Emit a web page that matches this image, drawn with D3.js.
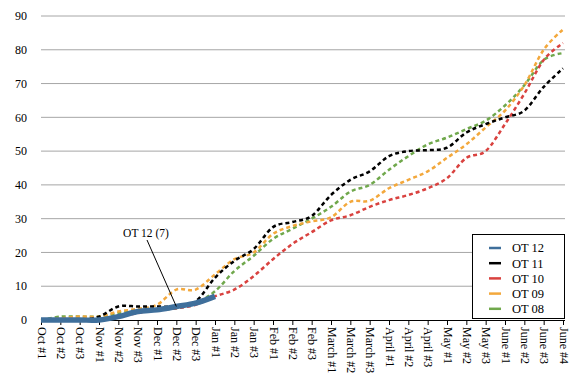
<!doctype html>
<html lang="en">
  <head>
    <meta charset="UTF-8" />
    <title>OT chart</title>
    <style>
      body {
        margin: 0;
        background: #fff;
      }
      svg text {
        font-family: "Liberation Serif", "Times New Roman", serif;
      }
    </style>
  </head>
  <body>
    <svg id="chart"></svg>
    <script src="https://d3js.org/d3.v7.min.js"></script>
    <script>
      /* global d3 */

      const categories = [
        "Oct #1", "Oct #2", "Oct #3", "Nov #1", "Nov #2", "Nov #3",
        "Dec #1", "Dec #2", "Dec #3", "Jan #1", "Jan #2", "Jan #3",
        "Feb #1", "Feb #2", "Feb #3", "March #1", "March #2", "March #3",
        "April #1", "April #2", "April #3", "May #1", "May #2", "May #3",
        "June #1", "June #2", "June #3", "June #4",
      ];

      const ot12 = [0, 0, 0, 0, 1, 2.5, 3, 4, 5, 7];
      const ot11 = [0, 0, 0, 1, 4, 4, 4, 4, 5.5, 12.5, 17.5, 21, 27.5, 29, 30.8, 37, 41.5, 44, 48.5, 50, 50.3, 51, 55.5, 58, 60, 62, 69, 74.5];
      const ot10 = [0, 0, 0, 0, 1, 2, 3, 3.5, 4.5, 7, 9, 13, 18, 22.5, 26, 29.5, 31, 33.5, 35.5, 37, 39, 42, 48, 50, 58, 67, 77, 82];
      const ot09 = [0, 0.5, 1, 1, 2.5, 3.3, 4.5, 9, 9, 13.5, 18, 20, 25.5, 27.8, 29.2, 30.4, 35, 35.3, 39, 41.5, 44, 48, 52, 57, 62, 69.5, 80, 86];
      const ot08 = [0, 1, 1, 1, 2, 3, 3, 3.5, 5, 8.5, 14.5, 19, 24, 27, 30, 33.5, 38, 40, 44.5, 48.5, 52, 54, 56.5, 59, 63.5, 69.5, 77, 79];

      const yTicks = [0, 10, 20, 30, 40, 50, 60, 70, 80, 90];

      const series = [
        { name: "OT 12", values: ot12, color: "#3f6f9b" },
        { name: "OT 11", values: ot11, color: "#000000" },
        { name: "OT 10", values: ot10, color: "#d9423f" },
        { name: "OT 09", values: ot09, color: "#f3a83c" },
        { name: "OT 08", values: ot08, color: "#70a84c" },
      ];

      const width = 580,
        height = 388;

      const svg = d3
        .select("#chart")
        .attr("width", width)
        .attr("height", height)
        .attr("viewBox", [0, 0, width, height]);

      const x = d3.scalePoint().domain(categories).range([41, 563]);
      const y = d3.scaleLinear().domain([0, 90]).range([320, 16]);

      // gridlines + y labels
      svg
        .append("g")
        .selectAll("line")
        .data(yTicks.filter((d) => d > 0))
        .join("line")
        .attr("x1", 41)
        .attr("x2", 565)
        .attr("y1", (d) => y(d))
        .attr("y2", (d) => y(d))
        .attr("stroke", "#a6a6a6")
        .attr("stroke-width", 1);

      svg
        .append("g")
        .selectAll("text")
        .data(yTicks)
        .join("text")
        .attr("x", 27)
        .attr("y", (d) => y(d))
        .attr("dy", "0.35em")
        .attr("text-anchor", "end")
        .attr("font-size", 12)
        .text((d) => d);

      // x axis
      const xAxis = svg
        .append("g")
        .attr("transform", `translate(0,${y(0)})`)
        .call(d3.axisBottom(x).tickSize(5).tickSizeOuter(0));
      xAxis.select(".domain").attr("stroke", "#000").attr("d", "M41,0.5H565");
      xAxis.selectAll(".tick line").attr("stroke", "#000");
      xAxis
        .selectAll(".tick text")
        .attr("font-size", 12)
        .attr("fill", "#000")
        .attr("text-anchor", "start")
        .attr("transform", "rotate(90)")
        .attr("x", 7)
        .attr("y", 0)
        .attr("dy", "0.33em");

      const line = d3
        .line()
        .x((d, i) => x(categories[i]))
        .y((d) => y(d))
        .curve(d3.curveCardinal.tension(0));

      // dashed older seasons, drawn back to front
      const dashed = series.slice(1).reverse();
      svg
        .append("g")
        .selectAll("path")
        .data(dashed)
        .join("path")
        .attr("fill", "none")
        .attr("stroke", (d) => d.color)
        .attr("stroke-width", 2.5)
        .attr("stroke-dasharray", "4,3")
        .attr("d", (d) => line(d.values));

      // current season on top
      svg
        .append("path")
        .attr("fill", "none")
        .attr("stroke", series[0].color)
        .attr("stroke-width", 5.5)
        .attr("d", line(series[0].values));

      // annotation
      svg
        .append("line")
        .attr("x1", 147)
        .attr("y1", 240)
        .attr("x2", x("Dec #2"))
        .attr("y2", y(ot12[7]))
        .attr("stroke", "#000")
        .attr("stroke-width", 1);
      svg
        .append("text")
        .attr("x", 146)
        .attr("y", 237)
        .attr("text-anchor", "middle")
        .attr("font-size", 11.5)
        .text("OT 12 (" + ot12[ot12.length - 1] + ")");

      // legend
      const legend = svg.append("g");
      legend
        .append("rect")
        .attr("x", 472.5)
        .attr("y", 234.5)
        .attr("width", 92)
        .attr("height", 84)
        .attr("fill", "#fff")
        .attr("stroke", "#000");
      const items = legend
        .selectAll("g")
        .data(series)
        .join("g")
        .attr("transform", (d, i) => `translate(0,${248 + i * 15.2})`);
      items
        .append("line")
        .attr("x1", 489)
        .attr("x2", 501)
        .attr("stroke", (d) => d.color)
        .attr("stroke-width", 2.5);
      items
        .append("text")
        .attr("x", 512)
        .attr("dy", "0.35em")
        .attr("font-size", 12.5)
        .text((d) => d.name);
    </script>
  </body>
</html>
